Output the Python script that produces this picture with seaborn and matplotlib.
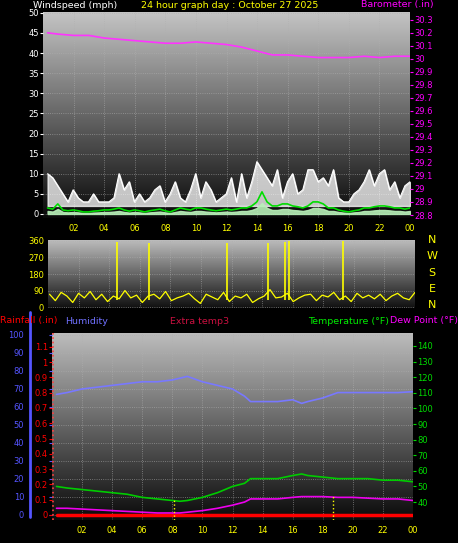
import numpy as np
import matplotlib
matplotlib.use("Agg")
import matplotlib.pyplot as plt
import seaborn as sns

sns.set_style("dark")
plt.rcParams["font.family"] = ["DejaVu Sans"]

# ---- data ----
baro_hours = [0.3, 1, 2, 3, 4, 5, 6, 7, 8, 9, 10, 11, 12, 13, 14, 15, 16, 17, 18, 19, 20, 21, 22, 23, 24]
baro = [30.20, 30.19, 30.18, 30.18, 30.16, 30.15, 30.14, 30.13, 30.12, 30.12, 30.13, 30.12, 30.11,
        30.09, 30.06, 30.03, 30.03, 30.02, 30.01, 30.01, 30.01, 30.02, 30.01, 30.02, 30.02]

wind_gust = [10, 9, 7, 5, 3, 6, 4, 3, 3, 5, 3, 3, 3, 4, 10, 6, 8, 3, 5, 3, 4, 6, 7, 3, 5, 8, 4, 3, 6, 10,
             4, 8, 6, 3, 4, 5, 9, 3, 10, 4, 8, 13, 11, 9, 7, 11, 4, 8, 10, 5, 6, 11, 11, 8, 9, 7, 11, 4,
             3, 3, 5, 6, 8, 11, 7, 10, 11, 6, 8, 4, 7, 8]
wind_avg = [1.5, 1.2, 2.5, 1, 0.8, 1, 0.8, 0.5, 0.5, 0.7, 0.8, 1, 1, 1.2, 1.5, 1, 0.7, 1, 0.8, 0.5, 0.8,
            1, 1.2, 0.8, 0.5, 1, 1.5, 1.2, 1, 1.5, 1.5, 1.2, 1, 0.8, 1, 1.2, 1, 1.2, 1.5, 1.5, 2, 3, 5.5,
            3, 2, 2, 2.5, 2.5, 2, 1.8, 1.5, 2, 3, 3, 2.5, 1.5, 1.5, 1, 0.7, 0.5, 0.8, 1, 1.5, 1.5, 1.8,
            2, 2, 1.8, 1.5, 1.5, 1.2, 1.5]

dir_vals = [70, 35, 80, 60, 25, 75, 50, 85, 40, 70, 30, 60, 45, 90, 50, 65, 25, 60, 70, 45, 85, 35, 50, 60,
            75, 45, 20, 70, 55, 40, 80, 30, 60, 50, 70, 25, 45, 60, 95, 50, 55, 75, 30, 50, 65, 70, 35, 65,
            55, 80, 40, 60, 30, 75, 50, 65, 45, 70, 35, 60, 75, 50, 40, 80]
spike_hours = [4.5, 6.6, 11.7, 14.4, 15.5, 15.75, 19.3]
spike_vals = [355, 350, 350, 350, 355, 358, 358]

hum_hours = [0.3, 1, 2, 3, 4, 5, 6, 7, 8, 9, 10, 11, 12, 12.8, 13.2, 14, 15, 16, 16.6, 17, 18, 19, 20, 21, 22, 23, 24]
humidity = [67, 68, 70, 71, 72, 73, 74, 74, 75, 77, 74, 72, 70, 66, 63, 63, 63, 64, 62, 63, 65, 68, 68, 68, 68, 68, 68.5]

temp_hours = [0.3, 1, 2, 3, 4, 5, 6, 7, 8, 8.5, 9, 10, 11, 12, 12.8, 13.2, 14, 15, 16, 16.6, 17, 18, 19, 20, 21, 22, 23, 24]
temperature = [50, 49, 48, 47, 46, 45, 43, 42, 41, 40.5, 41, 43, 46, 50, 52, 55, 55, 55, 57, 58, 57, 56, 55, 55, 55, 54, 54, 53]
dewpoint = [36, 36, 35.5, 35, 34.5, 34, 33.5, 33, 33, 33, 33.5, 34.5, 36, 38, 40, 42, 42, 42, 43, 43.5, 43.5, 43.5, 43, 43, 42.5, 42, 42, 41]
rain = [0] * len(temp_hours)
marker_hours = [8.1, 18.7]

hour_ticks = list(range(2, 25, 2))
hour_labels = [f"{h % 24:02d}" for h in hour_ticks]

W, H = 458, 543
fig = plt.figure(figsize=(W / 100, H / 100), dpi=100, facecolor="black")


def px_axes(x0, y0, x1, y1):
    return fig.add_axes([x0 / W, 1 - y1 / H, (x1 - x0) / W, (y1 - y0) / H])


def gradient(ax, top="#c4c4c4", bottom="#080808"):
    cmap = matplotlib.colors.LinearSegmentedColormap.from_list("g", [bottom, top])
    grad = np.linspace(0, 1, 256).reshape(-1, 1)
    ax.imshow(grad, cmap=cmap, aspect="auto", origin="lower", extent=[0, 1, 0, 1],
              transform=ax.transAxes, zorder=0)


def style(ax, left_color):
    ax.set_facecolor("black")
    for s in ax.spines.values():
        s.set_visible(False)
    ax.grid(True, color="#b0b0b0", linestyle=":", linewidth=0.6, alpha=0.7)
    ax.tick_params(axis="y", colors=left_color, labelsize=6, length=2, pad=1)
    ax.tick_params(axis="x", colors="yellow", labelsize=6, length=2, pad=2)
    ax.set_xlim(0, 24)
    ax.set_xticks(hour_ticks)


# ---- top: wind / barometer ----
ax1 = px_axes(43, 12, 410, 218)
style(ax1, "white")
gradient(ax1)
ax1.set_ylim(-1, 50.2)
ax1.set_yticks(range(0, 51, 5))
ax1.set_xticklabels(hour_labels)
gx = np.linspace(0.3, 24, len(wind_gust))
ax1.fill_between(gx, 2, wind_gust, color="white", alpha=0.75, zorder=2)
sns.lineplot(x=gx, y=wind_gust, ax=ax1, color="white", linewidth=0.8, zorder=2)
ax1.fill_between(gx, 0, np.array(wind_avg) * 0.5, color="#b8f0b8", alpha=0.9, zorder=3)
sns.lineplot(x=gx, y=wind_avg, ax=ax1, color="#00dd00", linewidth=1.2, zorder=4)
ax1b = ax1.twinx()
for s in ax1b.spines.values():
    s.set_visible(False)
ax1b.set_ylim(28.777, 30.36)
ax1b.set_yticks(np.round(np.arange(28.8, 30.31, 0.1), 1))
ax1b.set_yticklabels([f"{v:g}" for v in np.round(np.arange(28.8, 30.31, 0.1), 1)])
ax1b.tick_params(axis="y", colors="magenta", labelsize=6, length=2, pad=1)
sns.lineplot(x=baro_hours, y=baro, ax=ax1b, color="#ff33ff", linewidth=1.2)
ax1b.set_ylabel("")

fig.text(33 / W, 1 - 5 / H, "Windspeed (mph)", color="white", fontsize=6.8, va="center")
fig.text(230 / W, 1 - 5 / H, "24 hour graph day : October 27 2025", color="yellow", fontsize=6.8, va="center", ha="center")
fig.text(434 / W, 1 - 5 / H, "Barometer (.in)", color="magenta", fontsize=6.8, va="center", ha="right")

# ---- middle: wind direction ----
ax2 = px_axes(48, 240, 415, 308)
style(ax2, "yellow")
gradient(ax2, "#bcbcbc", "#101010")
ax2.set_ylim(-5, 365)
ax2.set_yticks([0, 90, 180, 270, 360])
ax2.set_xticklabels([])
ax2.tick_params(axis="x", length=0)
dx = np.linspace(0.1, 24, len(dir_vals))
sns.lineplot(x=dx, y=dir_vals, ax=ax2, color="yellow", linewidth=0.9)
ax2.vlines(spike_hours, 40, spike_vals, color="yellow", linewidth=1.2)
for y, t in zip([240, 256, 273, 289, 305], "NWSEN"):
    fig.text(432 / W, 1 - y / H, t, color="yellow", fontsize=8, ha="center", va="center")

# ---- bottom: humidity / rain / temperature ----
ax3 = px_axes(52, 333, 413, 520)
style(ax3, "#5555ff")
gradient(ax3, "#bcbcbc", "#0a0a0a")
ax3.set_ylim(-2.8, 101.1)
ax3.set_yticks(range(0, 101, 10))
ax3.set_xticklabels(hour_labels)
ax3.tick_params(axis="y", pad=18)
sns.lineplot(x=hum_hours, y=humidity, ax=ax3, color="#7878ff", linewidth=1.2)
ax3.set_ylabel("")
fig.add_artist(plt.Line2D([30 / W, 30 / W], [1 - 312 / H, 1 - 517 / H], color="#5555ff", lw=2))

ax3r = ax3.twinx()
for s in ax3r.spines.values():
    s.set_visible(False)
ax3r.yaxis.tick_left()
ax3r.set_ylim(-0.033, 1.19)
ax3r.set_yticks(np.round(np.arange(0, 1.11, 0.1), 1))
ax3r.set_yticklabels([f"{v:g}" for v in np.round(np.arange(0, 1.11, 0.1), 1)])
ax3r.tick_params(axis="y", colors="red", labelsize=6, length=2, pad=1)
sns.lineplot(x=temp_hours, y=rain, ax=ax3r, color="red", linewidth=2.5)
ax3r.axvline(0.05, color="#ff4040", linestyle=":", linewidth=1.2)
ax3r.set_ylabel("")

ax3t = ax3.twinx()
for s in ax3t.spines.values():
    s.set_visible(False)
ax3t.set_ylim(28.5, 148.3)
ax3t.set_yticks(range(40, 141, 10))
ax3t.tick_params(axis="y", colors="#00dd00", labelsize=6, length=2, pad=1)
sns.lineplot(x=temp_hours, y=temperature, ax=ax3t, color="#00cc00", linewidth=1.2)
sns.lineplot(x=temp_hours, y=dewpoint, ax=ax3t, color="#ee00ee", linewidth=1.2)
ax3t.vlines(marker_hours, 28.5, [41, 44], color="yellow", linestyle=":", linewidth=1)
ax3t.set_ylabel("")

for x, t, c, ha in [(0, "Rainfall (.in)", "red", "left"), (65, "Humidity", "#7070ff", "left"),
                    (170, "Extra temp3", "#cc1040", "left"), (308, "Temperature (°F)", "#00ee00", "left"),
                    (458, "Dew Point (°F)", "magenta", "right")]:
    fig.text(x / W, 1 - 321 / H, t, color=c, fontsize=6.8, va="center", ha=ha)

fig.savefig("out.png", dpi=100, facecolor="black")
